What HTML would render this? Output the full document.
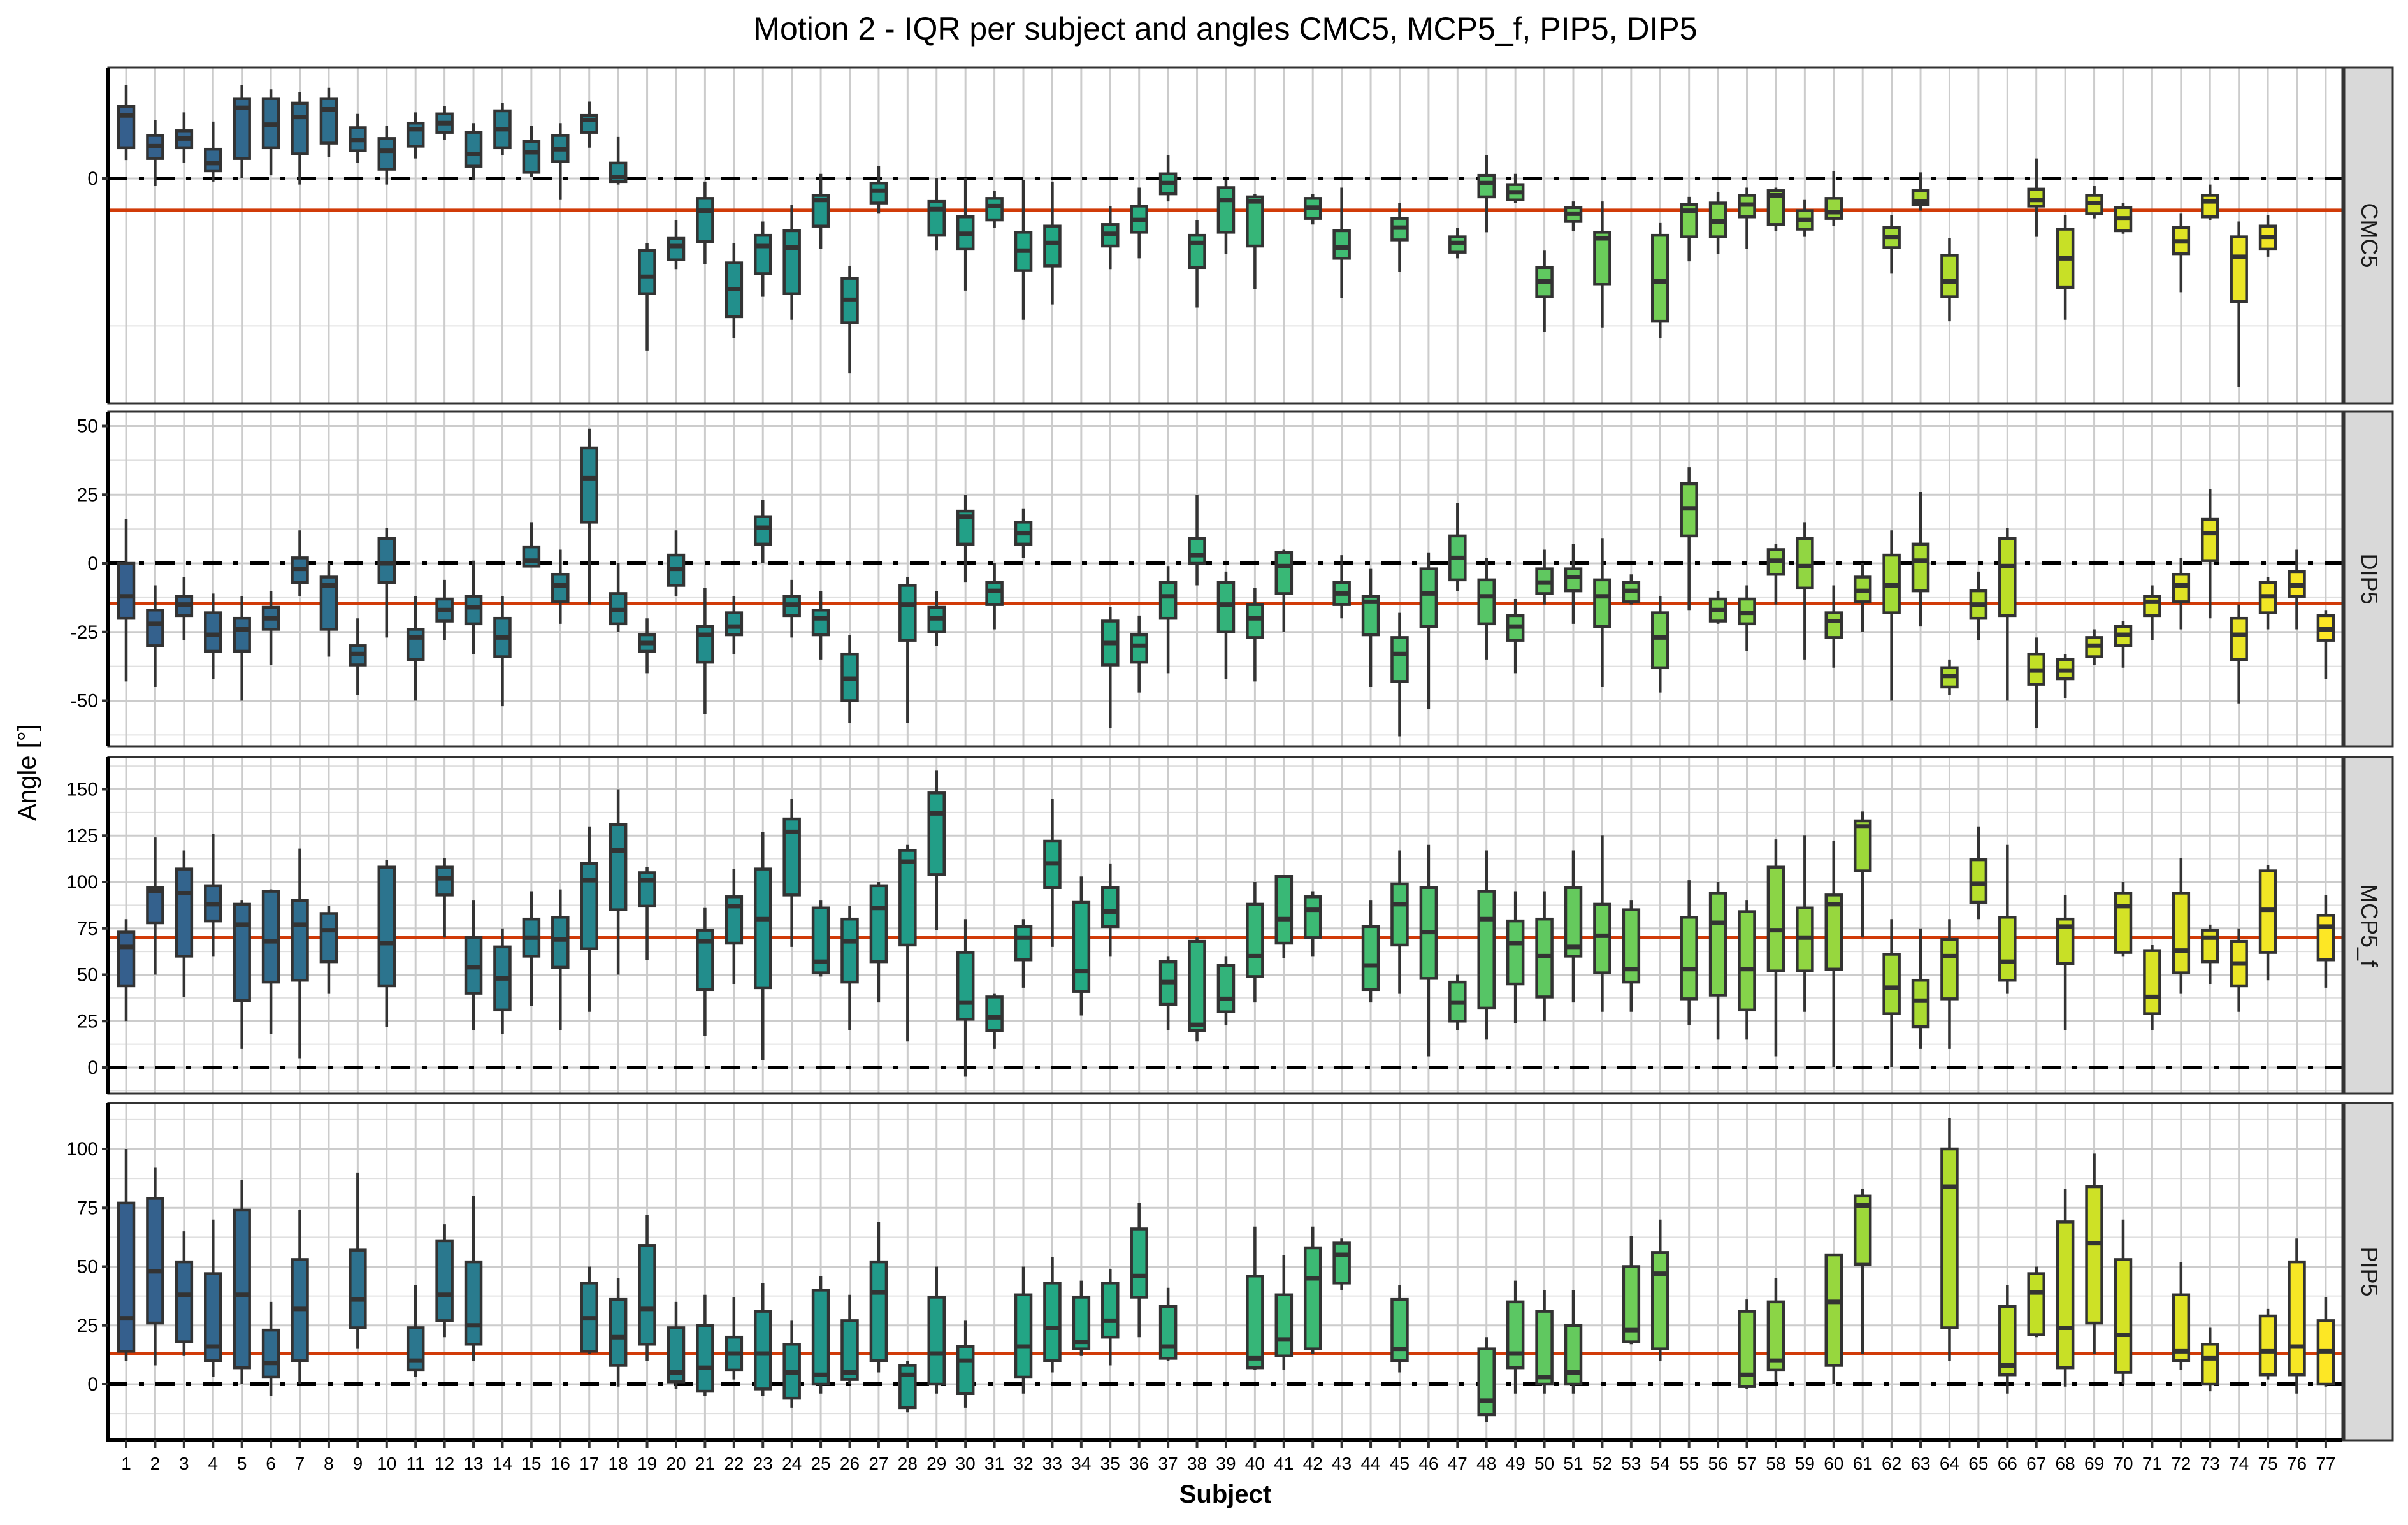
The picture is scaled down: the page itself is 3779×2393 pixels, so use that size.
<!DOCTYPE html>
<html><head><meta charset="utf-8"><style>
html,body{margin:0;padding:0;background:#fff;}
svg{display:block;font-family:"Liberation Sans",Arial,sans-serif;}
</style></head><body>
<svg id="chart" width="3779" height="2393" viewBox="0 0 3779 2393" xmlns="http://www.w3.org/2000/svg">
<rect x="0" y="0" width="3779" height="2393" fill="#fff"/>
<text x="1923" y="62" text-anchor="middle" font-size="50" fill="#000">Motion 2 - IQR per subject and angles CMC5, MCP5_f, PIP5, DIP5</text>
<text transform="translate(56,1212) rotate(-90)" text-anchor="middle" font-size="40" fill="#000">Angle [°]</text>
<text x="1923" y="2358" text-anchor="middle" font-size="40" font-weight="bold" fill="#000">Subject</text>
<g id="plots"></g>
</svg>
<script>
const subjects = Array.from({length:77},(_,i)=>i+1);
const panelNames = ["CMC5","DIP5","MCP5_f","PIP5"];
const meanValues = [-20.7,-14.5,70,13];
// each entry: [whiskerLow, q1, median, q3, whiskerHigh] or null
const cmc5 = [[12,20,41,47,61],[-5,13,21,28,38],[10,20,26,31,43],[-2,5,10,19,37],[0,13,46,52,61],[2,20,35,52,58],[-4,16,40,49,56],[14,23,45,52,59],[10,18,25,33,42],[-4,6,18,26,34],
[13,21,32,36,43],[25,30,36,42,47],[-1,8,16,30,36],[15,20,32,44,49],[1,4,17,24,34],[-14,11,19,28,36],[20,30,38,41,50],[-4,-2,1,10,27],[-112,-75,-64,-47,-42],[-59,-53,-44,-39,-27],
[-56,-41,-21,-13,-2],[-104,-90,-72,-55,-42],[-77,-62,-44,-37,-28],[-92,-75,-45,-34,-17],[-46,-31,-14,-11,3],[-127,-94,-79,-65,-57],[-23,-16,-8,-3,8],null,[-47,-37,-20,-15,0],[-73,-46,-36,-25,0],
[-32,-27,-18,-13,-8],[-92,-60,-47,-35,-1],[-82,-57,-42,-31,-2],null,[-59,-44,-36,-30,-18],[-52,-35,-27,-18,-6],[-15,-10,-3,3,15],[-84,-58,-42,-37,-27],[-49,-35,-14,-6,-1],[-72,-44,-15,-12,-10],
null,[-30,-26,-19,-13,-10],[-78,-52,-45,-34,-6],null,[-61,-40,-32,-26,-16],null,[-52,-48,-42,-38,-32],[-35,-12,-3,2,15],[-16,-14,-9,-4,3],[-100,-77,-67,-58,-47],
[-34,-28,-23,-19,-15],[-97,-69,-39,-35,-15],null,[-104,-93,-67,-37,-29],[-54,-38,-21,-17,-12],[-49,-38,-28,-16,-9],[-46,-25,-17,-11,-6],[-34,-30,-11,-8,-6],[-38,-33,-27,-21,-14],[-31,-26,-22,-13,5],
null,[-62,-45,-38,-32,-24],[-21,-17,-15,-8,4],[-93,-77,-67,-50,-39],null,null,[-38,-18,-14,-7,13],[-92,-71,-52,-33,-24],[-26,-23,-16,-11,-5],[-36,-34,-26,-19,-16],
null,[-74,-49,-41,-32,-23],[-27,-25,-15,-11,-4],[-136,-80,-51,-38,-28],[-51,-46,-38,-31,-24],null,null];
const dip5 = [[-43,-20,-12,0,16],[-45,-30,-22,-17,-8],[-28,-19,-15,-12,-5],[-42,-32,-26,-18,-11],[-50,-32,-24,-20,-12],[-37,-24,-20,-16,-10],[-12,-7,-2,2,12],[-34,-24,-8,-5,0],[-48,-37,-33,-30,-20],[-27,-7,0,9,13],
[-50,-35,-27,-24,-12],[-28,-21,-17,-13,-6],[-33,-22,-16,-12,1],[-52,-34,-27,-20,-12],[-1,-1,1,6,15],[-22,-14,-8,-4,5],[-15,15,31,42,49],[-25,-22,-17,-11,0],[-40,-32,-29,-26,-20],[-12,-8,-2,3,12],
[-55,-36,-26,-23,-9],[-33,-26,-23,-18,-12],[0,7,13,17,23],[-27,-19,-15,-12,-6],[-35,-26,-20,-17,-10],[-58,-50,-42,-33,-26],null,[-58,-28,-15,-8,-5],[-30,-25,-20,-16,-10],[-7,7,17,19,25],
[-24,-15,-10,-7,0],[2,7,11,15,20],null,null,[-60,-37,-29,-21,-16],[-47,-36,-30,-26,-19],[-40,-20,-12,-7,-1],[-8,0,3,9,25],[-42,-25,-15,-7,-3],[-43,-27,-20,-15,-9],
[-25,-11,-1,4,5],null,[-20,-15,-11,-7,3],[-45,-26,-14,-12,-2],[-63,-43,-33,-27,-18],[-53,-23,-11,-2,4],[-10,-6,2,10,22],[-35,-22,-12,-6,2],[-40,-28,-23,-19,-13],[-15,-11,-7,-2,5],
[-22,-10,-5,-2,7],[-45,-23,-12,-6,9],[-15,-14,-10,-7,-4],[-47,-38,-27,-18,-12],[-17,10,20,29,35],[-22,-21,-17,-13,-10],[-32,-22,-18,-13,-8],[-15,-4,1,5,7],[-35,-9,-1,9,15],[-38,-27,-21,-18,-8],
[-25,-14,-10,-5,0],[-50,-18,-8,3,12],[-23,-10,1,7,26],[-48,-45,-41,-38,-35],[-28,-20,-15,-10,-3],[-50,-19,-1,9,13],[-60,-44,-39,-33,-27],[-49,-42,-39,-35,-33],[-37,-34,-30,-27,-24],[-38,-30,-26,-23,-21],
[-28,-19,-14,-12,-8],[-24,-14,-8,-4,2],[-20,1,11,16,27],[-51,-35,-26,-20,-15],[-24,-18,-12,-7,-5],[-24,-12,-8,-3,5],[-42,-28,-24,-19,-17]];
const mcp5f = [[25,44,65,73,80],[50,78,95,97,124],[38,60,94,107,117],[60,79,88,98,126],[10,36,77,88,90],[18,46,68,95,96],[5,47,77,90,118],[40,57,74,83,87],null,[22,44,67,108,112],
null,[70,93,102,108,113],[20,40,54,70,90],[18,31,48,65,75],[33,60,70,80,95],[20,54,69,81,96],[30,64,101,110,130],[50,85,117,131,150],[58,87,101,105,108],null,
[17,42,68,74,86],[45,67,87,92,107],[4,43,80,107,127],[65,93,127,134,145],[49,51,57,86,90],[20,46,68,80,87],[35,57,86,98,100],[14,66,111,117,120],[74,104,137,148,160],[-5,26,35,62,80],
[10,20,27,38,40],[43,58,70,76,80],[65,97,110,122,145],[28,41,52,89,103],[60,76,84,97,110],null,[20,34,46,57,60],[14,20,23,68,70],[23,30,37,55,60],[35,49,60,88,100],
[59,67,80,103,103],[60,70,85,92,95],null,[35,42,55,76,90],[40,66,88,99,117],[6,48,73,97,120],[20,25,35,46,50],[15,32,80,95,117],[24,45,67,79,95],[25,38,60,80,95],
[35,60,65,97,117],[30,51,71,88,125],[30,46,53,85,90],null,[23,37,53,81,101],[15,39,78,94,100],[15,31,53,84,90],[6,52,74,108,123],[30,52,70,86,125],[0,53,88,93,122],
[70,106,130,133,138],[0,29,43,61,80],[10,22,36,47,75],[10,37,60,69,80],[80,89,99,112,130],[40,47,57,81,120],null,[20,56,76,80,93],null,[60,62,87,94,100],
[20,29,38,63,66],[40,51,63,94,113],[45,57,70,74,77],[30,44,56,68,75],[47,62,85,106,109],null,[43,58,76,82,93]];
const pip5 = [[10,14,28,77,100],[8,26,48,79,92],[12,18,38,52,65],[3,10,16,47,70],[0,7,38,74,87],[-5,3,9,23,35],[0,10,32,53,74],null,[15,24,36,57,90],null,
[3,6,10,24,42],[20,27,38,61,68],[10,17,25,52,80],null,null,null,[13,14,28,43,50],[-1,8,20,36,45],[10,17,32,59,72],[-2,1,5,24,35],
[-5,-3,7,25,38],[2,6,13,20,37],[-5,-2,13,31,43],[-10,-6,5,17,27],[-4,0,4,40,46],[0,2,5,27,38],[5,10,39,52,69],[-12,-10,4,8,10],[-4,0,13,37,50],[-10,-4,10,16,27],
null,[-4,3,16,38,50],[5,10,24,43,54],[12,15,18,37,44],[8,20,27,43,49],[20,37,46,66,77],[10,11,16,33,41],null,null,[6,7,11,46,67],
[6,12,19,38,55],[13,15,45,58,67],[40,43,55,60,62],null,[5,10,15,36,42],null,null,[-16,-13,-7,15,20],[-4,7,13,35,44],[-4,0,3,31,40],
[-4,0,5,25,40],null,[17,18,23,50,63],[10,15,47,56,70],null,null,[-2,-1,4,31,36],[1,6,10,35,45],null,[0,8,35,55,55],
[13,51,76,80,83],null,null,[10,24,84,100,113],null,[-4,4,8,33,42],[20,21,39,47,50],[-1,7,24,69,83],[13,26,60,84,98],[0,5,21,53,70],
null,[6,10,14,38,52],[-3,0,11,17,24],null,[2,4,14,29,32],[-4,4,16,52,62],[-1,0,14,27,37]];
const dipTicks = [-50,-25,0,25,50];
const mcpTicks = [0,25,50,75,100,125,150];
const pipTicks = [0,25,50,75,100];
const cmcTicks = [0];

(function(){
const NS="http://www.w3.org/2000/svg";
const g=document.getElementById('plots');
const L=170,R=3676;
const xOf=s=>198+(s-1)*45.42;
const panels=[
 {data:cmc5,top:106,bot:633,z:280,k:2.41,ticks:cmcTicks,minor:[-96]},
 {data:dip5,top:646,bot:1171,z:884,k:4.31,ticks:dipTicks,minor:[-62.5,-37.5,-12.5,12.5,37.5]},
 {data:mcp5f,top:1188,bot:1716,z:1675,k:2.91,ticks:mcpTicks,minor:[-12.5,12.5,37.5,62.5,87.5,112.5,137.5,162.5]},
 {data:pip5,top:1731,bot:2260,z:2172,k:3.69,ticks:pipTicks,minor:[-12.5,12.5,37.5,62.5,87.5,112.5]}
];
const stops=["#440154","#482475","#414487","#355f8d","#2a788e","#21918c","#22a884","#44bf70","#7ad151","#bddf26","#fde725"];
function hex(h){return [1,3,5].map(i=>parseInt(h.substr(i,2),16));}
function vir(t){const p=t*10,i=Math.min(9,Math.floor(p)),f=p-i;const a=hex(stops[i]),b=hex(stops[i+1]);return 'rgb('+a.map((v,j)=>Math.round(v+(b[j]-v)*f)).join(',')+')';}
function el(tag,attrs,parent){const e=document.createElementNS(NS,tag);for(const k in attrs)e.setAttribute(k,attrs[k]);(parent||g).appendChild(e);return e;}
panels.forEach((P,pi)=>{
 const y=v=>P.z-v*P.k;
 const pg=el('g',{});
 
 
 el('rect',{x:L,y:P.top,width:R-L,height:P.bot-P.top,fill:'#fff'},pg);
 P.minor.forEach(v=>{const yy=y(v);if(yy>P.top&&yy<P.bot)el('line',{x1:L,x2:R,y1:yy,y2:yy,stroke:'#e0e0e0','stroke-width':2},pg);});
 P.ticks.forEach(v=>{const yy=y(v);el('line',{x1:L,x2:R,y1:yy,y2:yy,stroke:'#cccccc','stroke-width':3},pg);});
 subjects.forEach(s=>{const xx=xOf(s);el('line',{x1:xx,x2:xx,y1:P.top,y2:P.bot,stroke:'#cccccc','stroke-width':3},pg);});
 // reference lines
 const zl=el('line',{x1:L,x2:R,y1:y(0),y2:y(0),stroke:'#000','stroke-width':6,'stroke-dasharray':'30 18 8 18'},pg);
 
 
 const ml=el('line',{x1:L,x2:R,y1:y(meanValues[pi]),y2:y(meanValues[pi]),stroke:'#d13b08','stroke-width':5},pg);
 
 
 // boxes
 P.data.forEach((d,i)=>{
  if(!d)return;
  const s=subjects[i],xx=xOf(s),col=vir(0.3+0.7*(s-1)/76);
  const bg=el('g',{},pg);
  
  
  el('line',{x1:xx,x2:xx,y1:y(d[0]),y2:y(d[4]),stroke:'#333','stroke-width':4.5},bg);
  el('rect',{x:xx-12,y:y(d[3]),width:24,height:Math.max(1,y(d[1])-y(d[3])),fill:col,stroke:'#333','stroke-width':4.5},bg);
  el('line',{x1:xx-12,x2:xx+12,y1:y(d[2]),y2:y(d[2]),stroke:'#333','stroke-width':7},bg);
 });
 el('rect',{x:L,y:P.top,width:R-L,height:P.bot-P.top,fill:'none',stroke:'#333','stroke-width':3},pg);
 el('line',{x1:L,x2:L,y1:P.top,y2:P.bot,stroke:'#000','stroke-width':6},pg);
 P.ticks.forEach(v=>{const yy=y(v);
  el('line',{x1:L-10,x2:L,y1:yy,y2:yy,stroke:'#333','stroke-width':4},pg);
  const t=el('text',{x:L-16,y:yy+10,'text-anchor':'end','font-size':30,fill:'#000'},pg);
  t.textContent=v;
  
  
 });
 // strip
 const st=el('rect',{x:R+3,y:P.top,width:76,height:P.bot-P.top,fill:'#d9d9d9',stroke:'#333','stroke-width':3},pg);
 
 
 const cy=(P.top+P.bot)/2;
 const lt=el('text',{transform:'translate('+(R+30)+','+cy+') rotate(90)','text-anchor':'middle','font-size':36,fill:'#1a1a1a'},pg);
 lt.textContent=panelNames[pi];
 
 
});
// x axis
const B=panels[3].bot;
el('line',{x1:L-3,x2:R,y1:B,y2:B,stroke:'#000','stroke-width':6});
subjects.forEach(s=>{const xx=xOf(s);
 el('line',{x1:xx,x2:xx,y1:B,y2:B+12,stroke:'#333','stroke-width':4});
 const t=el('text',{x:xx,y:B+46,'text-anchor':'middle','font-size':28,fill:'#000'});
 t.textContent=s;
 
 
});
})();
</script>
</body></html>
